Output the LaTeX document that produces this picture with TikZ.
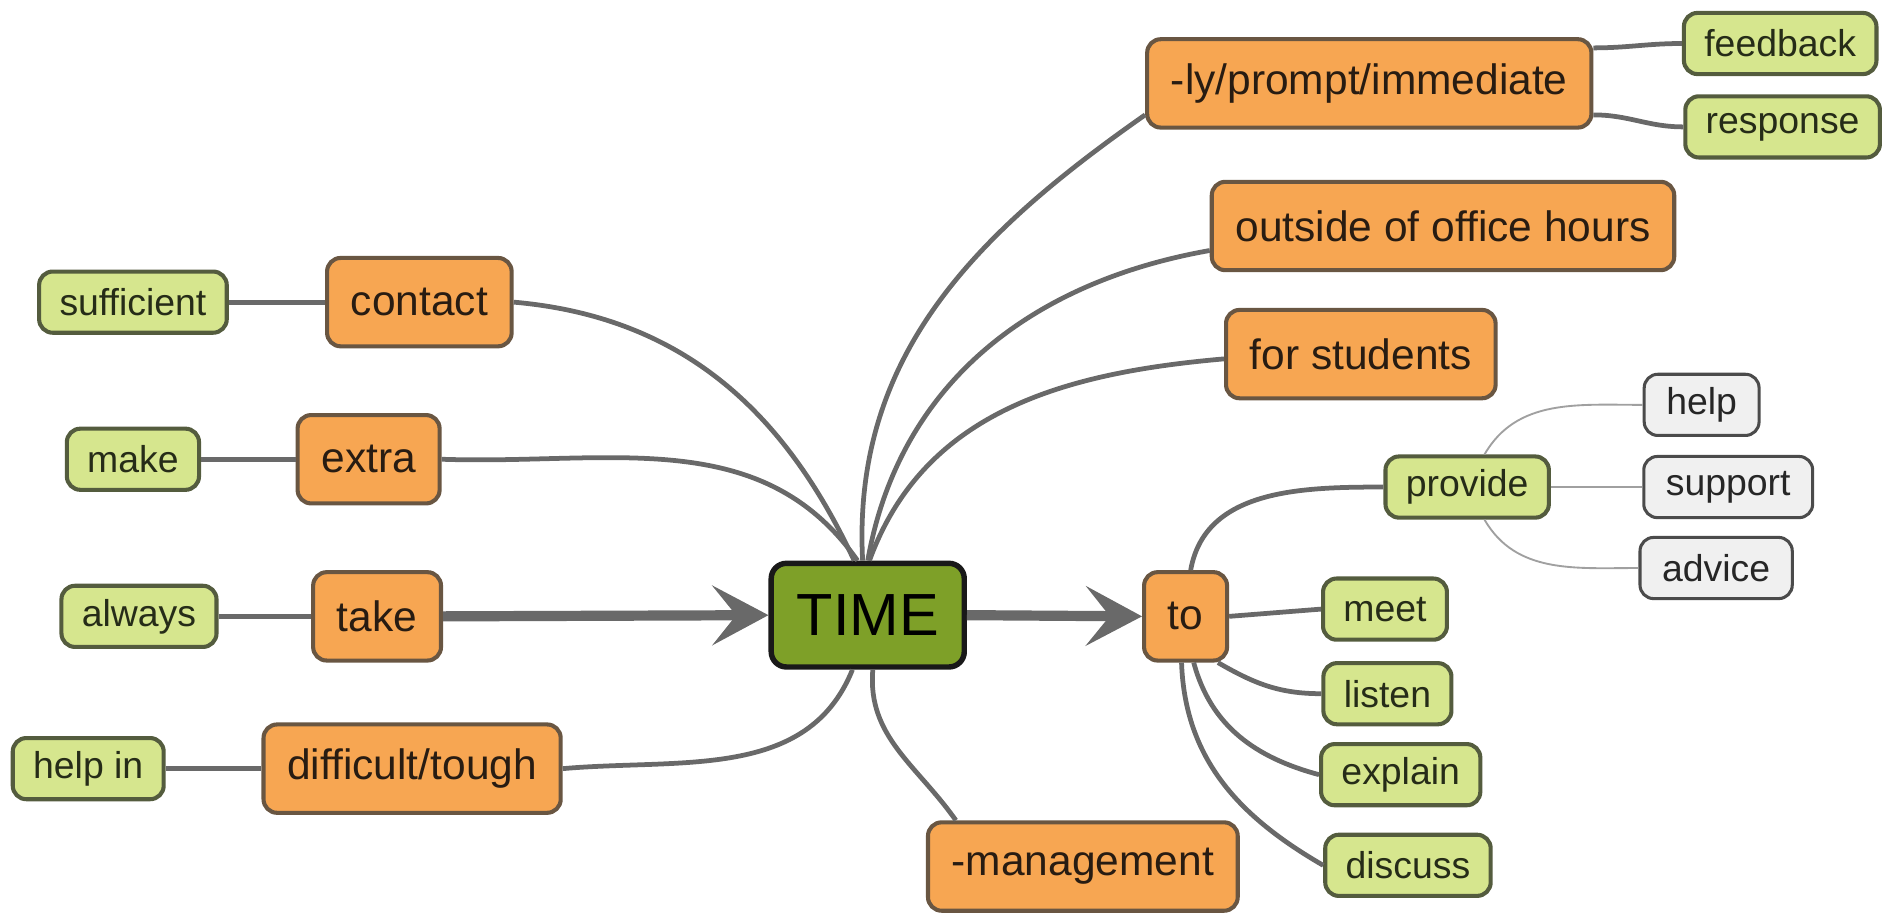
\documentclass[tikz,border=0pt]{standalone}
\usepackage{fontspec}
\setmainfont{Liberation Sans}
\usetikzlibrary{arrows.meta}

\definecolor{boxorange}{RGB}{247,166,82}
\definecolor{edgeorange}{RGB}{105,86,66}
\definecolor{boxleaf}{RGB}{214,230,142}
\definecolor{edgeleaf}{RGB}{84,92,62}
\definecolor{boxtime}{RGB}{126,160,40}
\definecolor{boxgrey}{RGB}{240,240,240}
\definecolor{edgegrey}{RGB}{75,75,75}
\definecolor{linkgrey}{RGB}{105,105,105}
\definecolor{thingrey}{RGB}{160,160,160}
\definecolor{inkdark}{RGB}{40,28,18}
\definecolor{inkleaf}{RGB}{38,44,24}

\begin{document}
\begin{tikzpicture}[x=0.025cm,y=0.025cm,
        orangebox/.style={draw=edgeorange, fill=boxorange, line width=2.4pt, rounded corners=8pt,
            minimum height=52pt, inner xsep=14pt, text=inkdark, font=\fontsize{25}{30}\selectfont},
        leafbox/.style={draw=edgeleaf, fill=boxleaf, line width=2.4pt, rounded corners=8pt,
            minimum height=36pt, inner xsep=12pt, text=inkleaf, font=\fontsize{22}{26}\selectfont},
        greybox/.style={draw=edgegrey, fill=boxgrey, line width=1.8pt, rounded corners=8pt,
            minimum height=36pt, inner xsep=13pt, text=black!85, font=\fontsize{22}{26}\selectfont},
        timebox/.style={draw=black!90, fill=boxtime, line width=3.2pt, rounded corners=9pt,
            minimum height=61pt, inner xsep=15pt, text=black, font=\fontsize{35}{40}\selectfont},
        link/.style={draw=linkgrey, line width=2.8pt},
        thinlink/.style={draw=thingrey, line width=1.1pt},
        biglink/.style={draw=linkgrey, line width=6pt, -{Stealth[length=33pt,width=35pt,inset=14pt]}}]
        \useasboundingbox (0,0) rectangle (1568,-755);

        % Centre
        \node[timebox] (TIME) at (718,-509) {TIME};

        % Left branches
        \node[orangebox] (contact) at (347,-250) {contact};
        \node[orangebox] (extra) at (305,-380) {extra};
        \node[orangebox] (take) at (312,-510) {take};
        \node[orangebox] (difficult) at (341,-636) {difficult/tough};

        \node[leafbox] (sufficient) at (110,-250) {sufficient};
        \node[leafbox] (make) at (110,-380) {make};
        \node[leafbox] (always) at (115,-510) {always};
        \node[leafbox] (helpin) at (73,-636) {help in};

        % Upper right branches
        \node[orangebox] (ly) at (1133,-69) {-ly/prompt/immediate};
        \node[orangebox] (outside) at (1194,-187) {outside of office hours};
        \node[orangebox] (students) at (1126,-293) {for students};
        \node[leafbox] (feedback) at (1473,-36) {feedback};
        \node[leafbox] (response) at (1475,-105) {response};

        % Lower branch
        \node[orangebox] (management) at (896,-717) {-management};

        % to and its leaves
        \node[orangebox] (to) at (981,-510) {to};
        \node[leafbox] (provide) at (1214,-403) {provide};
        \node[leafbox] (meet) at (1146,-504) {meet};
        \node[leafbox] (listen) at (1148,-574) {listen};
        \node[leafbox] (explain) at (1159,-641) {explain};
        \node[leafbox] (discuss) at (1165,-716) {discuss};

        \node[greybox] (help) at (1408,-335) {help};
        \node[greybox] (support) at (1430,-403) {support};
        \node[greybox] (advice) at (1420,-470) {advice};

        % Leaves to left branches
        \draw[link] (sufficient) -- (contact);
        \draw[link] (make) -- (extra);
        \draw[link] (always) -- (take);
        \draw[link] (helpin) -- (difficult);

        % Branches to TIME
        \draw[link] (contact.east) to[out=-5,in=115] ([xshift=-8pt]TIME.north);
        \draw[link] (extra.east) to[out=-2,in=125] ([xshift=-6pt]TIME.north);
        \draw[link] ([xshift=-3pt]TIME.north) to[out=93,in=215] (ly.188);
        \draw[link] (TIME.north) to[out=80,in=190] (outside.186);
        \draw[link] ([xshift=1pt]TIME.north) to[out=70,in=185] (students.182);
        \draw[link] (difficult.east) to[out=5,in=-112] ([xshift=-9pt]TIME.south);
        \draw[link] ([xshift=3pt]TIME.south) to[out=-95,in=125] (management.160);

        \draw[biglink] (take.east) -- (TIME.west);
        \draw[biglink] (TIME.east) -- (to.west);

        % -ly leaves
        \draw[link] (ly.9) to[out=0,in=180] (feedback.west);
        \draw[link] (ly.-8) to[out=0,in=180] (response.west);

        % to leaves
        \draw[link] ([xshift=3pt]to.north) to[out=80,in=180] (provide.west);
        \draw[link] (to.east) -- (meet.west);
        \draw[link] (to.-55) to[out=-30,in=180] (listen.west);
        \draw[link] (to.-80) to[out=-75,in=165] (explain.west);
        \draw[link] (to.-95) to[out=-88,in=150] (discuss.west);

        % provide leaves
        \draw[thinlink] (provide.62) to[out=60,in=180] (help.west);
        \draw[thinlink] (provide.east) -- (support.west);
        \draw[thinlink] (provide.-62) to[out=-60,in=180] (advice.west);
    \end{tikzpicture}
\end{document}
